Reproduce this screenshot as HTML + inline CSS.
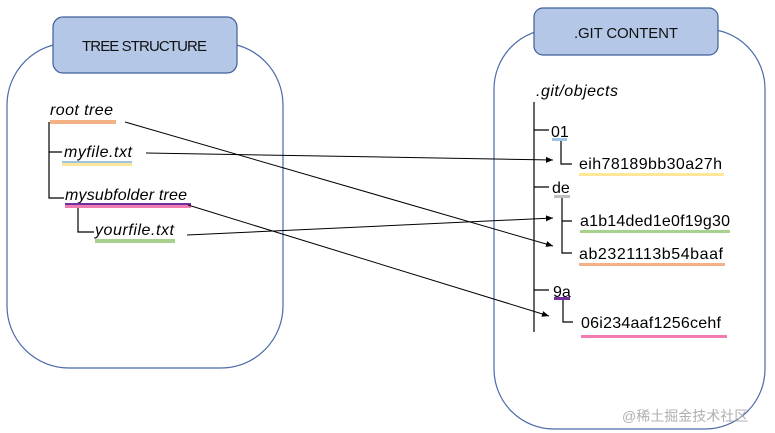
<!DOCTYPE html>
<html><head><meta charset="utf-8"><style>
html,body{margin:0;padding:0;background:#fff;}
svg{display:block;}
text{font-family:"Liberation Sans","Noto Sans CJK SC",sans-serif;}
</style></head><body>
<svg width="775" height="433" viewBox="0 0 775 433" xmlns="http://www.w3.org/2000/svg">
<defs><marker id="a" markerWidth="8" markerHeight="8" refX="7" refY="4" orient="auto" markerUnits="userSpaceOnUse"><path d="M0,1 L7,4 L0,7 z" fill="#000"/></marker></defs>
<rect x="7" y="43" width="276" height="325" rx="62" fill="none" stroke="#4a6aa8" stroke-width="1.2"/>
<rect x="53" y="17" width="184" height="56" rx="10" fill="#b4c7e7" stroke="#3f5f9a" stroke-width="1.2"/>
<text x="82" y="51" font-size="15" textLength="125" fill="#111">TREE STRUCTURE</text>
<rect x="494" y="29" width="271" height="400" rx="60" fill="none" stroke="#4a6aa8" stroke-width="1.2"/>
<rect x="534" y="8" width="184" height="47" rx="9" fill="#b4c7e7" stroke="#3f5f9a" stroke-width="1.2"/>
<text x="574" y="38" font-size="15" textLength="104" fill="#111">.GIT CONTENT</text>
<g font-size="16" font-style="italic" fill="#000">
<text x="50" y="115" textLength="63">root tree</text>
<text x="64" y="157" textLength="68">myfile.txt</text>
<text x="65" y="200" textLength="122">mysubfolder tree</text>
<text x="95" y="235" textLength="79">yourfile.txt</text>
</g>
<rect x="50" y="120" width="66" height="4" fill="#f4b183"/>
<rect x="62" y="161" width="70" height="2" fill="#9dc3e6"/>
<rect x="62" y="163" width="70" height="3" fill="#ffe699"/>
<rect x="65" y="203" width="126" height="2" fill="#7030a0"/>
<rect x="65" y="205" width="126" height="3" fill="#f07cb0"/>
<rect x="95" y="239" width="80" height="4" fill="#a9d18e"/>
<path d="M49 122V198H64M49 152H62M78 208V232H94" fill="none" stroke="#000" stroke-width="1.2"/>
<text x="536" y="96" font-size="16" font-style="italic" textLength="82">.git/objects</text>
<g font-size="16" fill="#000">
<text x="551" y="137">01</text>
<text x="579" y="169" textLength="143">eih78189bb30a27h</text>
<text x="552" y="193">de</text>
<text x="580" y="226" textLength="150">a1b14ded1e0f19g30</text>
<text x="579" y="259" textLength="144">ab2321113b54baaf</text>
<text x="553" y="297">9a</text>
<text x="581" y="328" textLength="140">06i234aaf1256cehf</text>
</g>
<rect x="552" y="138" width="15" height="3" fill="#9dc3e6"/>
<rect x="579" y="173" width="145" height="3" fill="#ffe699"/>
<rect x="554" y="195" width="16" height="3" fill="#bfbfbf"/>
<rect x="580" y="230" width="150" height="3" fill="#a9d18e"/>
<rect x="579" y="263" width="146" height="3" fill="#f4b183"/>
<rect x="554" y="297" width="16" height="3" fill="#7030a0"/>
<rect x="581" y="335" width="146" height="3" fill="#f07cb0"/>
<path d="M534 102V332M534 130H549M534 187H549M534 290H549M561 141V164H572M562 198V253H572M562 221H572M563 300V322H573" fill="none" stroke="#000" stroke-width="1.2"/>
<g stroke="#000" stroke-width="1" fill="none" marker-end="url(#a)">
<line x1="125" y1="122" x2="553" y2="246"/>
<line x1="146" y1="153" x2="553" y2="160"/>
<line x1="188" y1="205" x2="549" y2="316"/>
<line x1="187" y1="235" x2="553" y2="218"/>
</g>
<text x="622" y="421" font-size="14" fill="#b0b0b0">@稀土掘金技术社区</text>
</svg>
</body></html>
